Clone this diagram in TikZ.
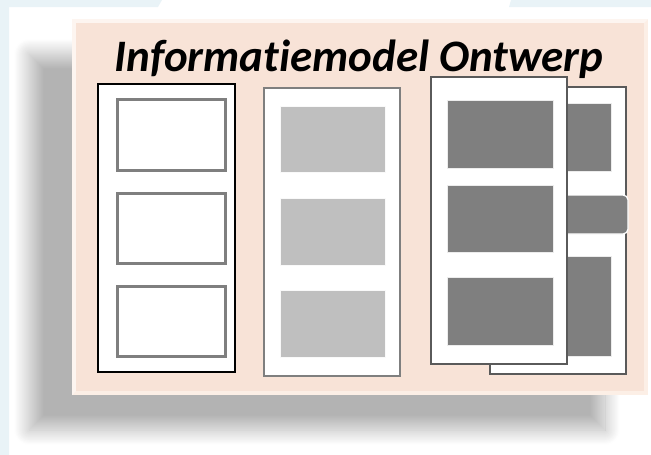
\documentclass[tikz,border=0pt]{standalone}
\usepackage{fontspec}
\setmainfont{Carlito}[Ligatures=NoCommon]
\usetikzlibrary{shadows.blur}
\definecolor{bgblue}{HTML}{E9F3F7}
\definecolor{panelfill}{HTML}{F8E3D7}
\definecolor{paneledge}{HTML}{FCEFE6}
\definecolor{lightbox}{HTML}{BFBFBF}
\definecolor{darkbox}{HTML}{7F7F7F}
\definecolor{frameg}{HTML}{7F7F7F}
\definecolor{framed}{HTML}{5A5A5A}
\tikzset{
  col1/.style={draw=black, line width=1.6pt, fill=white},
  col2/.style={draw=frameg, line width=1.6pt, fill=white},
  col3/.style={draw=framed, line width=1.6pt, fill=white},
  wbox/.style={draw=frameg, line width=3pt, fill=white},
  lbox/.style={draw=white!90!lightbox, line width=0.6pt, fill=lightbox},
  dbox/.style={draw=white!85!darkbox, line width=0.6pt, fill=darkbox},
}
\begin{document}
\begin{tikzpicture}[x=1pt,y=-1pt]
\useasboundingbox (0,0) rectangle (651,455);
% background bits
\fill[bgblue] (0,0) -- (162,0) -- (158,7) -- (9,7) -- (9,455) -- (0,455) -- cycle;
\fill[bgblue] (511,0) -- (651,0) -- (651,7) -- (509,7) -- cycle;
% panel with shadow
\path[fill=paneledge, blur shadow={shadow xshift=-43pt, shadow yshift=-35pt, shadow blur radius=15pt, shadow blur steps=24, shadow opacity=30}]
  (72,19) rectangle (648,395);
\fill[white!40!paneledge] (72,19) -- (648,19) -- (644,23) -- (76,23) -- (76,391) -- (72,395) -- cycle;
\fill[panelfill] (76,23) rectangle (644,391);
\node[font=\bfseries\itshape\fontsize{45}{50}\selectfont, anchor=base] (title) at (359,71) {Informatiemodel Ontwerp};
% column 1
\draw[col1] (98,84) rectangle (235,372);
\draw[wbox] (117,99) rectangle (225,170);
\draw[wbox] (117,193) rectangle (225,263);
\draw[wbox] (117,286) rectangle (225,356);
% column 2
\draw[col2] (264,88) rectangle (400,376);
\draw[lbox] (280,106) rectangle (385,172);
\draw[lbox] (280,198) rectangle (385,265);
\draw[lbox] (280,290) rectangle (385,357);
% column 3 back
\draw[col3] (490,87) rectangle (626,374);
\draw[dbox] (500,103) rectangle (611,171);
\draw[dbox] (500,256) rectangle (611,356);
\draw[draw=white, line width=1.2pt, fill=darkbox, rounded corners=5pt] (520,195) rectangle (628,234);
% column 3 front
\draw[col3] (431,77) rectangle (567,364);
\draw[dbox] (447,100) rectangle (553,168);
\draw[dbox] (447,185) rectangle (553,252);
\draw[dbox] (447,277) rectangle (553,345);
\end{tikzpicture}
\end{document}
